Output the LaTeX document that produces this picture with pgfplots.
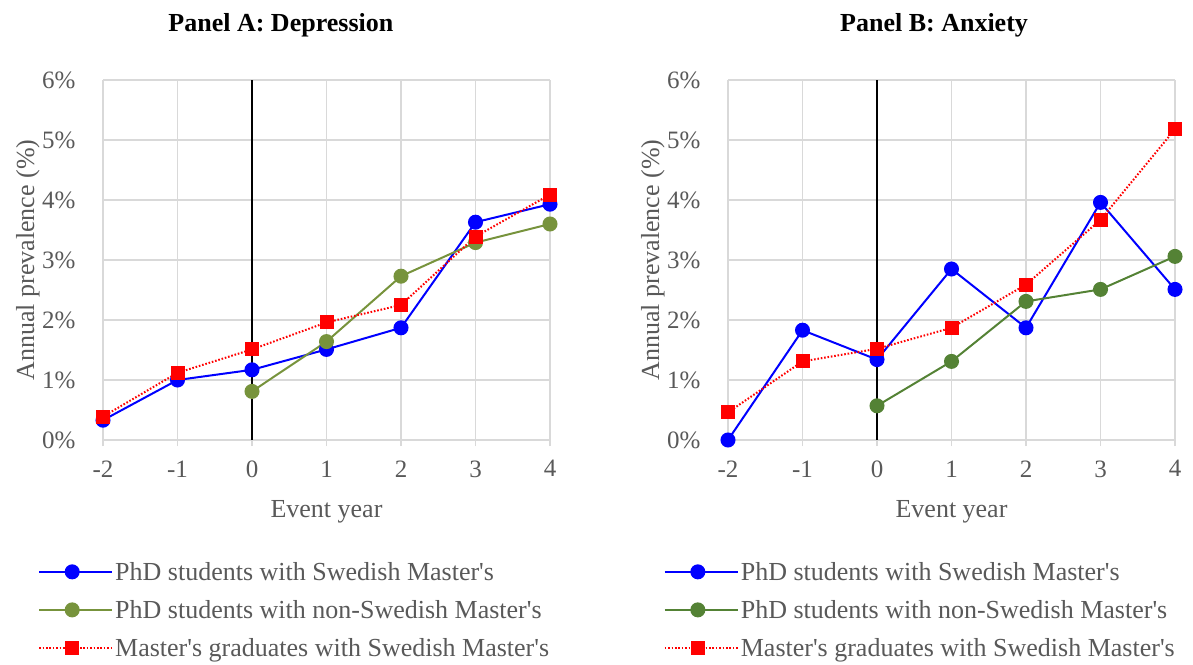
\documentclass[border=0pt]{standalone}
\usepackage{pgfplots}
\pgfplotsset{compat=1.18}
\usepackage{fontspec}
\setmainfont{Liberation Serif}
\definecolor{gridgray}{HTML}{D9D9D9}
\definecolor{textgray}{HTML}{595959}
\definecolor{greenA}{HTML}{77933C}
\definecolor{greenB}{HTML}{548235}
\newcommand{\ap}{\textquotesingle}
\pgfplotsset{
  panel/.style={
    scale only axis, width=447pt, height=360pt,
    xmin=-2, xmax=4, ymin=0, ymax=6, clip=false,
    xtick={-2,-1,0,1,2,3,4}, xticklabels={-2,-1,0,1,2,3,4},
    ytick={0,1,2,3,4,5,6}, yticklabels={0\%,1\%,2\%,3\%,4\%,5\%,6\%},
    grid=major, grid style={draw=gridgray, line width=1.5pt},
    axis x line=bottom, axis y line=left,
    x axis line style={draw=gridgray, line width=1.5pt, -},
    y axis line style={draw=none, -},
    xtick style={draw=gridgray, line width=1.5pt},
    ytick style={draw=none},
    tick align=outside, major tick length=6pt,
    tick label style={font=\fontsize{25}{30}\selectfont, text=textgray},
    yticklabel style={anchor=east, xshift=-18pt},
    xticklabel style={anchor=north, yshift=-11pt},
    label style={font=\fontsize{26}{31}\selectfont, text=textgray},
    xlabel={Event year}, ylabel={Annual prevalence (\%)},
    xlabel style={at={(axis description cs:0.5,-0.2)}, anchor=center},
    ylabel style={at={(axis description cs:-0.168,0.5)}, anchor=center},
    title style={anchor=center, font=\fontsize{26}{31}\selectfont\bfseries, text=black},
    legend style={draw=none, fill=none, font=\fontsize{26}{31}\selectfont, text=textgray,
      row sep=14.5pt, inner sep=0pt, anchor=north west},
    legend cell align=left,
    legend image code/.code={\path (0pt,0pt) -- (73pt,0pt); \draw[mark repeat=2,mark phase=2,#1] plot coordinates {(0pt,0pt) (33pt,0pt) (66pt,0pt)};},
  },
  blueS/.style={color=blue, line width=2pt, mark=*, mark size=6.5pt, mark options={solid, fill=blue}},
  redS/.style={color=red, line width=2pt, dash pattern=on 1.6pt off 1.8pt, mark=square*, mark size=6pt, mark options={solid, fill=red}},
}
\begin{document}
\begin{tikzpicture}
\path[use as bounding box] (0pt,0pt) rectangle (1193pt,664pt);
\begin{axis}[panel, at={(103pt,224pt)}, anchor=south west,
  title={Panel A: Depression}, title style={at={(axis description cs:0.398,1.136)}},
  legend style={at={(axis description cs:-0.1454,-0.333)}}]
\addplot[blueS] coordinates {(-2,0.33) (-1,1.00) (0,1.17) (1,1.51) (2,1.87) (3,3.63) (4,3.93)};
\addlegendentry{PhD students with Swedish Master\ap s}
\addplot[color=greenA, line width=2pt, mark=*, mark size=6.5pt, mark options={solid, fill=greenA}] coordinates {(0,0.81) (1,1.64) (2,2.73) (3,3.29) (4,3.60)};
\addlegendentry{PhD students with non-Swedish Master\ap s}
\addplot[redS] coordinates {(-2,0.39) (-1,1.12) (0,1.51) (1,1.96) (2,2.25) (3,3.39) (4,4.09)};
\addlegendentry{Master\ap s graduates with Swedish Master\ap s}
\addplot[black, line width=2pt, forget plot] coordinates {(0,0) (0,6)};
\end{axis}
\begin{axis}[panel, at={(728pt,224pt)}, anchor=south west,
  title={Panel B: Anxiety}, title style={at={(axis description cs:0.461,1.136)}},
  legend style={at={(axis description cs:-0.144,-0.333)}}]
\addplot[blueS] coordinates {(-2,0.00) (-1,1.83) (0,1.34) (1,2.85) (2,1.87) (3,3.96) (4,2.51)};
\addlegendentry{PhD students with Swedish Master\ap s}
\addplot[color=greenB, line width=2pt, mark=*, mark size=6.5pt, mark options={solid, fill=greenB}] coordinates {(0,0.57) (1,1.31) (2,2.31) (3,2.51) (4,3.06)};
\addlegendentry{PhD students with non-Swedish Master\ap s}
\addplot[redS] coordinates {(-2,0.46) (-1,1.31) (0,1.52) (1,1.87) (2,2.59) (3,3.67) (4,5.18)};
\addlegendentry{Master\ap s graduates with Swedish Master\ap s}
\addplot[black, line width=2pt, forget plot] coordinates {(0,0) (0,6)};
\end{axis}
\end{tikzpicture}
\end{document}
